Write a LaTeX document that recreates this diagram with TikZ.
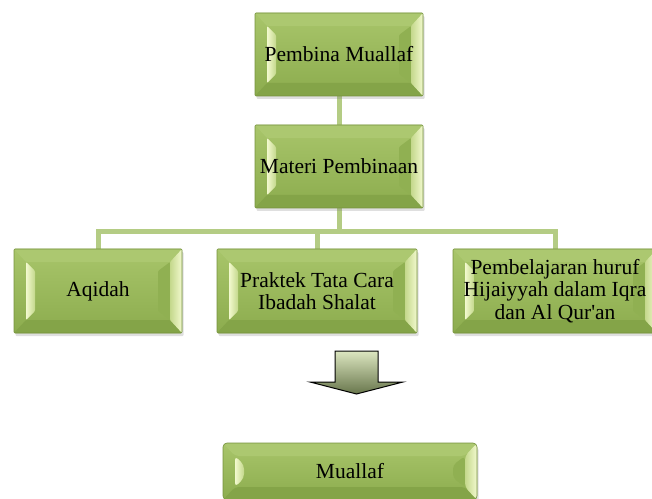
\documentclass[tikz,border=0pt]{standalone}
\usepackage{fontspec}
\setmainfont{Liberation Serif}
\usetikzlibrary{positioning, calc, shadows, backgrounds}
\definecolor{boxtop}{RGB}{168,197,106}
\definecolor{boxbottom}{RGB}{140,172,78}
\definecolor{boxedge}{RGB}{118,146,62}
\definecolor{topband}{RGB}{172,200,112}
\definecolor{bottomband}{RGB}{132,164,72}
\definecolor{innerband}{RGB}{144,176,82}
\definecolor{facetpale}{RGB}{242,249,206}
\definecolor{facetmid}{RGB}{196,216,140}
\definecolor{linkgreen}{RGB}{180,204,132}
\definecolor{arrowtop}{RGB}{220,230,192}
\definecolor{arrowbottom}{RGB}{104,118,76}
\tikzset{
    bevel/.style={path picture={
        \fill[topband] let \p1=(path picture bounding box.north west), \p2=(path picture bounding box.south east) in
            (\x1,\y1) -- (\x2,\y1) -- (\x2-12pt,\y1-13pt) -- (\x1+12pt,\y1-13pt) -- cycle;
        \fill[bottomband] let \p1=(path picture bounding box.north west), \p2=(path picture bounding box.south east) in
            (\x1,\y2) -- (\x2,\y2) -- (\x2-12pt,\y2+13pt) -- (\x1+12pt,\y2+13pt) -- cycle;
        \fill[innerband] let \p1=(path picture bounding box.north west), \p2=(path picture bounding box.south east) in
            (\x2-12pt,\y1-13pt) -- (\x2-24pt,\y1-22pt) -- (\x2-24pt,\y2+22pt) -- (\x2-12pt,\y2+13pt) -- cycle;
        \shade[left color=facetpale, right color=facetmid] let \p1=(path picture bounding box.north west), \p2=(path picture bounding box.south east) in
            (\x1+12pt,\y1-13pt) -- (\x1+21pt,\y1-22pt) -- (\x1+21pt,\y2+22pt) -- (\x1+12pt,\y2+13pt) -- cycle;
        \shade[left color=facetmid, right color=facetpale] let \p1=(path picture bounding box.north west), \p2=(path picture bounding box.south east) in
            (\x2,\y1) -- (\x2-12pt,\y1-13pt) -- (\x2-12pt,\y2+13pt) -- (\x2,\y2) -- cycle;
    }},
    greenbox/.style={draw=boxedge, line width=0.6pt, top color=boxtop, bottom color=boxbottom, bevel,
        rounded corners=1pt, font=\fontsize{21.5}{22.5}\selectfont, align=center, inner sep=0pt, outer sep=0pt,
        minimum height=84pt, drop shadow={shadow xshift=1.5pt, shadow yshift=-3pt, opacity=0.25}},
    link/.style={draw=linkgreen, line width=5pt},
    arrowbody/.style={draw=black, line width=1pt, line join=miter, top color=arrowtop, bottom color=arrowbottom}
}
\begin{document}
\begin{tikzpicture}[x=1pt, y=1pt]
    \useasboundingbox (0,0) rectangle (652,498);
    \clip (0,0) rectangle (652,498);

    \node [greenbox, minimum width=168pt, minimum height=83pt] (Pembina) at (339,443.5) {Pembina Muallaf};
    \node [greenbox, minimum width=168pt, minimum height=83pt, below=29pt of Pembina] (Materi) {Materi Pembinaan};

    \node [greenbox, minimum width=168pt] (Aqidah) at (98,207) {Aqidah};
    \node [greenbox, minimum width=200pt, right=35pt of Aqidah] (Praktek) {Praktek Tata Cara\\Ibadah Shalat};
    \node [greenbox, minimum width=204pt, right=36pt of Praktek] (Hijaiyyah) {Pembelajaran huruf\\Hijaiyyah dalam Iqra\\dan Al Qur\textquotesingle an};

    \node [greenbox, minimum width=254pt, minimum height=57pt, rounded corners=4pt] (Muallaf) at (350,26.5) {Muallaf};

    \begin{scope}[on background layer]
        \draw [link] (Pembina) -- (Materi);
        \draw [link] (Materi.south) -- ++(0,-24pt) -| (Aqidah.north);
        \draw [link] (Materi.south) -- ++(0,-24pt) -| (Praktek.north);
        \draw [link] (Materi.south) -- ++(0,-24pt) -| (Hijaiyyah.north);
    \end{scope}

    % block arrow down to Muallaf
    \draw [arrowbody] (335,147) -- (378,147) -- (378,116) -- (403,116) -- (356.5,104) -- (310,116) -- (335,116) -- cycle;
\end{tikzpicture}
\end{document}
